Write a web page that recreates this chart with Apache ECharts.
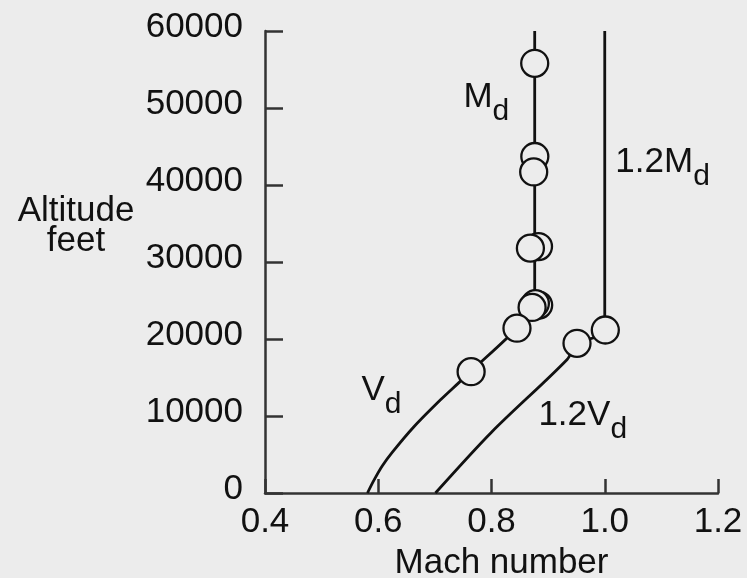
<!DOCTYPE html>
<html>
<head>
<meta charset="UTF-8">
<script src="https://cdn.jsdelivr.net/npm/echarts@6/dist/echarts.min.js"></script>
<style>
html, body { margin: 0; padding: 0; background: #ececec; }
#main { width: 747px; height: 578px; }
</style>
</head>
<body>
<div id="main"></div>
<script type="text/javascript">
// V_d curve that turns into the constant M_d line
var vdMach = [0.581, 0.592, 0.607, 0.625, 0.663, 0.71, 0.742, 0.763, 0.845, 0.866, 0.874, 0.8763, 0.8763];
var vdAlt  = [0, 1600, 3500, 5300, 8600, 12100, 14300, 15760, 21400, 23600, 25000, 26500, 60000];

// 1.2 V_d curve that turns into the 1.2 M_d line
var dvMach = [0.701, 0.80, 0.9336, 0.951, 1.0, 1.0];
var dvAlt  = [0, 7900, 17350, 19440, 21170, 60000];

// test points (open circles)
var ptMach = [0.8763, 0.8765, 0.8745, 0.883, 0.8687, 0.8833, 0.8775, 0.8717, 0.845, 0.764, 1.001, 0.951];
var ptAlt  = [55800, 43700, 41700, 32000, 31800, 24400, 24600, 24100, 21400, 15760, 21170, 19440];

var xTicks = [0.4, 0.6, 0.8, 1.0, 1.2];
var yTicks = [0, 10000, 20000, 30000, 40000, 50000, 60000];

var bg = '#ececec';
var ink = '#111';
var font = "'Liberation Sans', Arial, Helvetica, sans-serif";

function pairs(xs, ys) {
    var out = [];
    for (var i = 0; i < xs.length; i++) out.push([xs[i], ys[i]]);
    return out;
}

// curve labels with subscript d
var richSub = {
    b: { fontSize: 35, lineHeight: 35, verticalAlign: 'top', color: ink, fontFamily: font },
    s: { fontSize: 30, lineHeight: 30, verticalAlign: 'top', padding: [17, 0, 0, 0], color: ink, fontFamily: font }
};
function tag(name, coord, main) {
    return {
        name: name,
        coord: coord,
        symbol: 'circle',
        symbolSize: 0,
        label: {
            show: true,
            position: [0, 0],
            align: 'left',
            verticalAlign: 'top',
            formatter: '{b|' + main + '}{s|d}',
            rich: richSub
        }
    };
}

var myChart = echarts.init(document.getElementById('main'));

var option = {
    backgroundColor: bg,
    animation: false,
    textStyle: { fontFamily: font },
    grid: { left: 265, right: 29, top: 31, bottom: 85, containLabel: false, outerBoundsMode: 'none' },
    graphic: [{
        type: 'text',
        x: 76,
        y: 226,
        style: {
            text: 'Altitude\nfeet',
            align: 'center',
            verticalAlign: 'middle',
            fontSize: 35,
            lineHeight: 30,
            fontFamily: font,
            fill: ink
        }
    }],
    xAxis: {
        type: 'value',
        min: xTicks[0],
        max: xTicks[xTicks.length - 1],
        interval: 0.2,
        name: 'Mach number',
        nameLocation: 'middle',
        nameGap: 53,
        nameTextStyle: { fontSize: 35, color: ink, padding: [0, 0, 0, 20] },
        axisLine: { onZero: false, lineStyle: { color: '#333', width: 2.5 } },
        axisTick: { inside: true, length: 14, lineStyle: { color: '#333', width: 2.5 } },
        axisLabel: {
            fontSize: 35, color: ink, margin: 12,
            formatter: function (v) { return v.toFixed(1); }
        },
        splitLine: { show: false }
    },
    yAxis: {
        type: 'value',
        min: yTicks[0],
        max: yTicks[yTicks.length - 1],
        interval: 10000,
        axisLine: { show: true, lineStyle: { color: '#333', width: 2.5 } },
        axisTick: { show: true, inside: true, length: 18, lineStyle: { color: '#333', width: 2.5 } },
        axisLabel: {
            margin: 22,
            formatter: function (v) { return '{n|' + v + '}'; },
            rich: { n: { fontSize: 35, color: ink, fontFamily: font, padding: [0, 0, 8, 0] } }
        },
        splitLine: { show: false }
    },
    series: [
        {
            name: 'Vd / Md',
            type: 'line',
            data: pairs(vdMach, vdAlt),
            showSymbol: false,
            smooth: 0.3,
            lineStyle: { color: ink, width: 2.8 },
            markPoint: {
                silent: true,
                data: [
                    tag('Md', [0.7504, 53640], 'M'),
                    tag('Vd', [0.5703, 15580], 'V')
                ]
            },
            z: 2
        },
        {
            name: '1.2Vd / 1.2Md',
            type: 'line',
            data: pairs(dvMach, dvAlt),
            showSymbol: false,
            smooth: 0.3,
            lineStyle: { color: ink, width: 2.8 },
            markPoint: {
                silent: true,
                data: [
                    tag('1.2Md', [1.0187, 45190], '1.2M'),
                    tag('1.2Vd', [0.8828, 12340], '1.2V')
                ]
            },
            z: 2
        },
        {
            name: 'points',
            type: 'scatter',
            data: pairs(ptMach, ptAlt),
            symbol: 'circle',
            symbolSize: 27,
            itemStyle: { color: bg, borderColor: ink, borderWidth: 2.3, opacity: 1 },
            z: 3
        }
    ]
};

myChart.setOption(option);
</script>
</body>
</html>
